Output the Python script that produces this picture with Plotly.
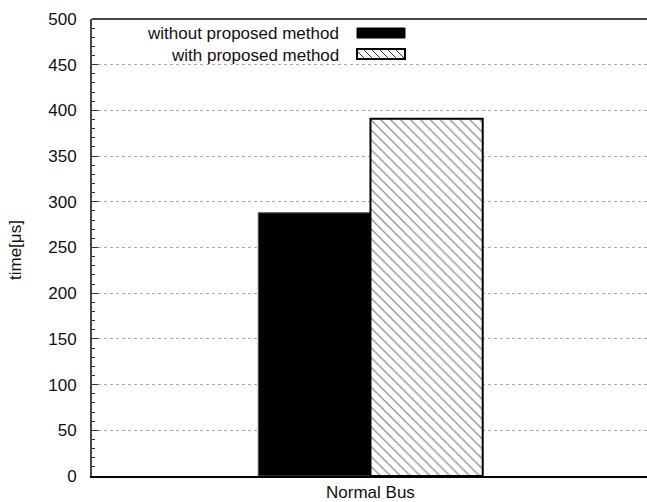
import plotly.graph_objects as go

# Data
categories = ["Normal Bus"]
series_names = ["without proposed method", "with proposed method"]
without_method = [288]
with_method = [391]
y_title = "time[μs]"

W, H = 647, 502
ML, MR, MT, MB = 92, 0, 19, 26
PW, PH = W - ML - MR, H - MT - MB
FONT = "Liberation Sans, Arial, sans-serif"
TXT = "#111111"


def px_x(px):
    return (px - ML) / PW


def px_y(py):
    return (H - MB - py) / PH


fig = go.Figure()
fig.add_trace(go.Bar(
    x=categories, y=without_method, name=series_names[0],
    marker=dict(color="black", line=dict(color="#555555", width=1)),
    showlegend=False,
))
fig.add_trace(go.Bar(
    x=categories, y=with_method, name=series_names[1],
    marker=dict(color="white", line=dict(color="black", width=2),
                pattern=dict(shape="\\", size=7, fgcolor="#2a2a2a",
                             bgcolor="white", solidity=0.2)),
    showlegend=False,
))

shapes = []
annotations = []

# top frame line
shapes.append(dict(type="line", xref="paper", yref="paper", x0=0, x1=1, y0=1, y1=1,
                   line=dict(color="#444444", width=2)))

# key: text to the left, sample box to the right
key_rows = [(33.5, 28, 38), (55, 49, 59)]
sw_x0, sw_x1 = 357, 405
for i, (yc, ya, yb) in enumerate(key_rows):
    annotations.append(dict(
        text=series_names[i], xref="paper", yref="paper",
        x=px_x(341), y=px_y(yc), xanchor="right", yanchor="middle",
        showarrow=False, font=dict(family=FONT, size=17, color=TXT)))
    if i == 0:
        shapes.append(dict(type="rect", xref="paper", yref="paper",
                           x0=px_x(sw_x0), x1=px_x(sw_x1), y0=px_y(yb), y1=px_y(ya),
                           fillcolor="black", line=dict(color="black", width=1)))
    else:
        # diagonal hatch inside the sample box
        h = yb - ya
        step = 8
        x = sw_x0 - h
        while x < sw_x1:
            # segment from (x, ya) to (x + h, yb), clipped to the box
            t0 = max(0.0, (sw_x0 - x) / h)
            t1 = min(1.0, (sw_x1 - x) / h)
            if t1 > t0:
                shapes.append(dict(
                    type="line", xref="paper", yref="paper",
                    x0=px_x(x + t0 * h), y0=px_y(ya + t0 * h),
                    x1=px_x(x + t1 * h), y1=px_y(ya + t1 * h),
                    line=dict(color="#333333", width=1)))
            x += step
        shapes.append(dict(type="rect", xref="paper", yref="paper",
                           x0=px_x(sw_x0), x1=px_x(sw_x1), y0=px_y(yb), y1=px_y(ya),
                           fillcolor="rgba(0,0,0,0)", line=dict(color="black", width=2)))

annotations.append(dict(
    text=y_title, xref="paper", yref="paper", x=px_x(16), y=px_y(250),
    xanchor="center", yanchor="middle", textangle=-90, showarrow=False,
    font=dict(family=FONT, size=17, color=TXT)))

fig.update_layout(
    width=W, height=H,
    margin=dict(l=ML, r=MR, t=MT, b=MB, pad=0),
    paper_bgcolor="white", plot_bgcolor="white",
    barmode="group", bargap=0.194, bargroupgap=0,
    font=dict(family=FONT, size=17, color=TXT),
    shapes=shapes, annotations=annotations,
    showlegend=False,
)
fig.update_xaxes(
    type="category", range=[-1, 0.993],
    showline=True, linecolor="black", linewidth=2,
    ticks="", showgrid=False, zeroline=False,
    tickfont=dict(family=FONT, size=17, color=TXT),
)
fig.update_yaxes(
    range=[0, 500], dtick=50, tick0=0,
    showline=True, linecolor="#444444", linewidth=2,
    ticks="inside", ticklen=6, tickwidth=1, tickcolor="#333333",
    minor=dict(ticks="inside", ticklen=3, dtick=10, tickcolor="#333333", showgrid=False),
    showgrid=True, gridcolor="#aaaaaa", griddash="dot", gridwidth=1,
    zeroline=False, ticklabelstandoff=10,
    tickfont=dict(family=FONT, size=17, color=TXT),
)

fig.write_html("out.html")
